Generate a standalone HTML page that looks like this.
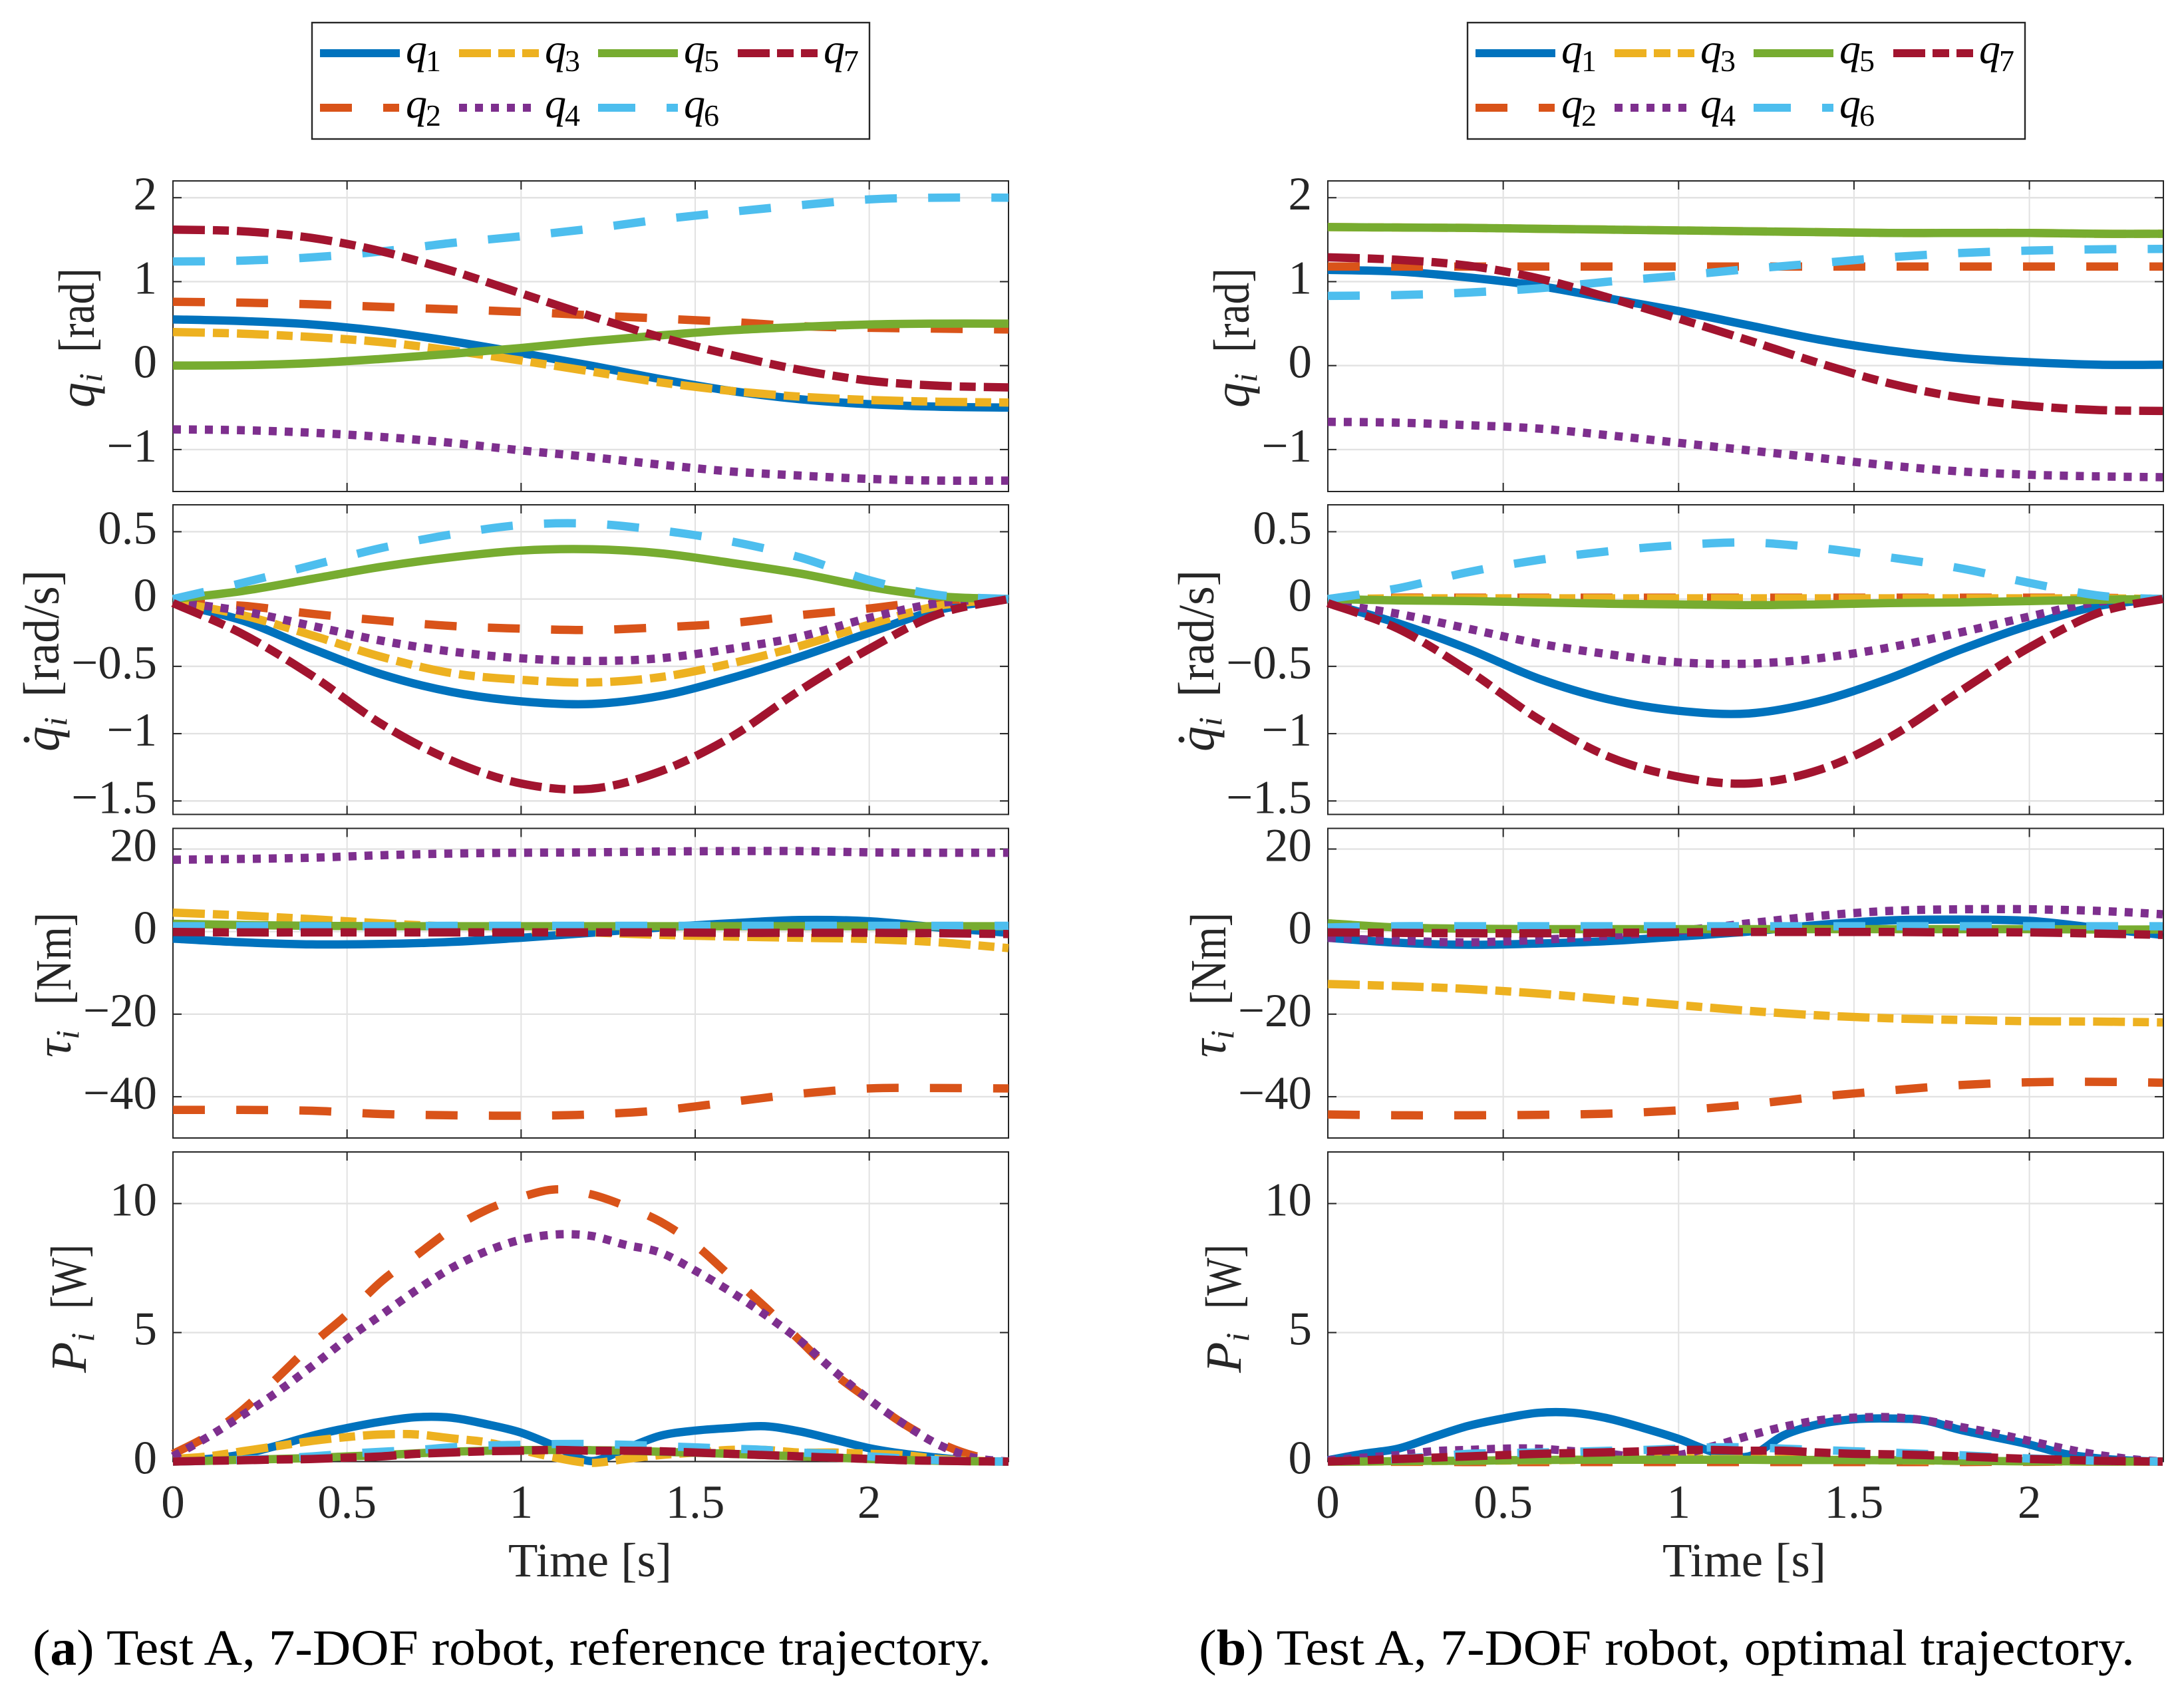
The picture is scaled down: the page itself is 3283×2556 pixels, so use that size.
<!DOCTYPE html>
<html lang="en">
<head>
<meta charset="utf-8">
<title>Test A, 7-DOF robot trajectories</title>
<style>
html,body{margin:0;padding:0;background:#fff}
svg{display:block}
text{font-family:"Liberation Serif",serif}
</style>
</head>
<body>
<svg id="figure" xmlns="http://www.w3.org/2000/svg" width="3283" height="2556" viewBox="0 0 3283 2556">
<rect x="0" y="0" width="3283" height="2556" fill="#ffffff"/>
<text x="49" y="2503" font-size="76" fill="#000" textLength="1441" lengthAdjust="spacingAndGlyphs">(<tspan font-weight="bold">a</tspan>) Test A, 7-DOF robot, reference trajectory.</text>
<text x="1802" y="2503" font-size="76" fill="#000" textLength="1407" lengthAdjust="spacingAndGlyphs">(<tspan font-weight="bold">b</tspan>) Test A, 7-DOF robot, optimal trajectory.</text>
</svg>
<script>
// Time grids (seconds)
const tA = [0,0.2,0.4,0.6,0.8,1,1.2,1.4,1.6,1.8,2,2.2,2.4];
const tAfine = [0,0.1,0.2,0.3,0.4,0.5,0.6,0.7,0.8,0.9,1,1.1,1.2,1.3,1.4,1.5,1.6,1.7,1.8,1.9,2,2.1,2.2,2.3,2.4];
const tB = [0,0.2,0.4,0.6,0.8,1,1.2,1.4,1.6,1.8,2,2.2,2.38];
const tBfine = [0,0.1,0.2,0.3,0.4,0.5,0.6,0.7,0.8,0.9,1,1.1,1.2,1.3,1.4,1.5,1.6,1.7,1.8,1.9,2,2.1,2.2,2.3,2.38];

// Tick labels
const xTicks = [0,0.5,1,1.5,2];
const posTicks = [-1,0,1,2];
const velTicks = [-1.5,-1,-0.5,0,0.5];
const torTicks = [-40,-20,0,20];
const powTicks = [0,5,10];

// (a) joint position [rad]
const posA1 = [0.55,0.53,0.49,0.41,0.29,0.15,0,-0.16,-0.3,-0.4,-0.46,-0.49,-0.5];
const posA2 = [0.76,0.75,0.73,0.7,0.67,0.64,0.6,0.56,0.52,0.47,0.45,0.44,0.43];
const posA3 = [0.4,0.38,0.34,0.28,0.18,0.06,-0.07,-0.2,-0.3,-0.37,-0.41,-0.43,-0.44];
const posA4 = [-0.76,-0.77,-0.8,-0.85,-0.92,-1.01,-1.09,-1.18,-1.26,-1.31,-1.35,-1.37,-1.37];
const posA5 = [0,0.005,0.03,0.08,0.14,0.21,0.29,0.36,0.42,0.46,0.49,0.5,0.5];
const posA6 = [1.24,1.25,1.29,1.36,1.46,1.54,1.63,1.74,1.83,1.91,1.98,2,2];
const posA7 = [1.62,1.6,1.52,1.36,1.13,0.86,0.59,0.34,0.13,-0.05,-0.18,-0.24,-0.26];

// (a) joint velocity [rad/s]
const velA1 = [-0.03,-0.16,-0.37,-0.56,-0.69,-0.76,-0.78,-0.72,-0.59,-0.43,-0.25,-0.08,0];
const velA2 = [-0.03,-0.05,-0.11,-0.16,-0.2,-0.22,-0.23,-0.21,-0.18,-0.12,-0.07,-0.01,0];
const velA3 = [-0.02,-0.12,-0.27,-0.43,-0.55,-0.6,-0.62,-0.58,-0.48,-0.35,-0.19,-0.05,0];
const velA4 = [-0.02,-0.09,-0.2,-0.31,-0.39,-0.44,-0.46,-0.44,-0.37,-0.28,-0.14,-0.03,0];
const velA5 = [0,0.06,0.15,0.24,0.31,0.36,0.37,0.34,0.27,0.19,0.09,0.02,0];
const velA6 = [0,0.12,0.25,0.38,0.48,0.55,0.56,0.51,0.43,0.31,0.14,0.03,0];
const velA7 = [-0.03,-0.26,-0.57,-0.93,-1.2,-1.37,-1.41,-1.28,-1.03,-0.68,-0.37,-0.11,0];

// (a) joint torque [Nm]
const torA1 = [-1.7,-2.6,-3.1,-3,-2.5,-1.5,-0.3,1,2,2.8,2.5,1,-0.3];
const torA2 = [-43.2,-43.2,-43.4,-44.2,-44.5,-44.6,-44.3,-43.3,-41.3,-39.3,-38,-37.9,-38];
const torA3 = [4.6,3.9,3,2,1.2,0.5,-0.2,-0.8,-1.2,-1.5,-1.8,-2.6,-4];
const torA4 = [17.4,17.6,17.9,18.5,18.9,19.1,19.2,19.4,19.5,19.5,19.2,19.1,19.1];
const torA5 = [1.9,1.6,1.4,1.3,1.3,1.3,1.3,1.3,1.3,1.3,1.3,1.3,1.3];
const torA6 = [1.3,1.3,1.3,1.3,1.4,1.4,1.4,1.4,1.4,1.4,1.4,1.4,1.4];
const torA7 = [-0.1,-0.2,-0.2,-0.2,-0.2,-0.2,-0.2,-0.2,-0.3,-0.3,-0.3,-0.4,-0.6];

// (a) joint power [W]
const powA1 = [0.05,0.1,0.28,0.62,1.0,1.3,1.55,1.72,1.7,1.45,1.12,0.58,0.02,0.5,1.0,1.2,1.3,1.37,1.17,0.85,0.52,0.3,0.15,0.03,0];
const powA2 = [0.3,1.0,2.0,3.25,4.55,5.7,7.0,8.0,9.0,9.75,10.25,10.55,10.36,9.9,9.3,8.4,7.2,6,4.7,3.4,2.4,1.45,0.73,0.23,0];
const powA3 = [0.1,0.2,0.4,0.6,0.8,0.95,1.05,1.05,0.9,0.75,0.45,0.15,-0.05,0.1,0.25,0.35,0.45,0.45,0.35,0.35,0.3,0.25,0.1,0.03,0];
const powA4 = [0.2,0.95,1.8,2.7,3.7,4.75,5.7,6.65,7.5,8.15,8.6,8.8,8.75,8.4,8.1,7.4,6.6,5.7,4.7,3.5,2.4,1.45,0.65,0.15,0];
const powA5 = [0,0.03,0.07,0.1,0.14,0.2,0.25,0.32,0.38,0.42,0.44,0.45,0.44,0.42,0.38,0.34,0.3,0.25,0.2,0.15,0.1,0.06,0.03,0.01,0];
const powA6 = [0,0.03,0.07,0.12,0.2,0.3,0.38,0.45,0.55,0.62,0.65,0.68,0.68,0.65,0.6,0.55,0.5,0.45,0.35,0.3,0.2,0.12,0.05,0.02,0];
const powA7 = [0,0.03,0.05,0.08,0.1,0.15,0.2,0.3,0.35,0.4,0.42,0.45,0.42,0.42,0.4,0.35,0.3,0.25,0.2,0.15,0.1,0.05,0.03,0.01,0];

// (b) joint position [rad]
const posB1 = [1.14,1.12,1.05,0.95,0.8,0.65,0.48,0.31,0.18,0.09,0.04,0.01,0.01];
const posB2 = [1.18,1.18,1.18,1.18,1.18,1.18,1.18,1.18,1.18,1.18,1.18,1.18,1.18];
const posB3 = [1.65,1.645,1.64,1.63,1.62,1.61,1.6,1.59,1.58,1.58,1.58,1.57,1.57];
const posB4 = [-0.67,-0.68,-0.71,-0.75,-0.83,-0.92,-1.01,-1.1,-1.19,-1.26,-1.3,-1.32,-1.33];
const posB5 = [1.65,1.645,1.64,1.63,1.62,1.61,1.6,1.59,1.58,1.58,1.58,1.57,1.57];
const posB6 = [0.83,0.84,0.87,0.92,1,1.07,1.15,1.22,1.29,1.34,1.37,1.385,1.39];
const posB7 = [1.29,1.26,1.19,1.04,0.81,0.56,0.3,0.03,-0.21,-0.38,-0.48,-0.53,-0.54];

// (b) joint velocity [rad/s]
const velB1 = [-0.03,-0.18,-0.37,-0.59,-0.745,-0.83,-0.85,-0.76,-0.59,-0.38,-0.195,-0.05,0];
const velB2 = [0,0.01,0.01,0.01,0.01,0.01,0.01,0.01,0.01,0.01,0.01,0.01,0];
const velB3 = [0,0.005,0.005,0.005,0.005,0.005,0.005,0.005,0.005,0.005,0.005,0.005,0];
const velB4 = [-0.03,-0.11,-0.22,-0.33,-0.41,-0.47,-0.48,-0.44,-0.36,-0.25,-0.13,-0.02,0];
const velB5 = [0,-0.01,-0.015,-0.025,-0.035,-0.04,-0.045,-0.04,-0.03,-0.025,-0.015,-0.005,0];
const velB6 = [0,0.08,0.2,0.29,0.355,0.4,0.42,0.38,0.31,0.23,0.12,0.025,0];
const velB7 = [-0.03,-0.22,-0.53,-0.89,-1.17,-1.32,-1.37,-1.27,-1.03,-0.69,-0.36,-0.1,0];

// (b) joint torque [Nm]
const torB1 = [-1.5,-2.7,-3.2,-2.9,-2.3,-1.2,0,1.6,2.7,2.9,2.6,0.8,-0.8];
const torB2 = [-44.3,-44.5,-44.5,-44.4,-44.1,-43.3,-41.9,-40,-38.5,-37.2,-36.5,-36.4,-36.6];
const torB3 = [-12.7,-13.2,-13.9,-15,-16.4,-17.8,-19.2,-20.3,-21,-21.4,-21.7,-21.8,-22];
const torB4 = [-1.5,-2.2,-2.6,-2,-1,0.2,2,3.8,5,5.4,5.4,5,4.2];
const torB5 = [2,1,0.7,0.6,0.6,0.6,0.6,0.6,0.6,0.6,0.6,0.5,0.5];
const torB6 = [1,1.3,1.3,1.3,1.3,1.3,1.3,1.3,1.3,1.3,1.3,1.3,1.3];
const torB7 = [-0.2,-0.3,-0.4,-0.4,-0.3,-0.2,-0.1,-0.1,-0.1,-0.2,-0.2,-0.5,-0.8];

// (b) joint power [W]
const powB1 = [0.05,0.3,0.5,0.95,1.38,1.67,1.89,1.89,1.67,1.3,0.88,0.37,0.2,1.02,1.45,1.64,1.67,1.6,1.24,0.95,0.66,0.3,0.12,0.03,0];
const powB2 = [0,0,-0.01,-0.01,-0.02,-0.02,-0.02,-0.02,-0.02,-0.02,-0.02,-0.02,-0.02,-0.02,-0.02,-0.02,-0.02,-0.02,-0.02,-0.01,-0.01,0,0,0,0];
const powB3 = [0,0,0.01,0.02,0.03,0.04,0.05,0.06,0.1,0.15,0.15,0.1,0.1,0.1,0.08,0.06,0.05,0.04,0.03,0.02,0.01,0,0,0,0];
const powB4 = [0.05,0.15,0.25,0.4,0.45,0.5,0.5,0.4,0.3,0.15,0.25,0.6,1,1.35,1.6,1.7,1.72,1.6,1.35,1.1,0.8,0.5,0.25,0.08,0];
const powB5 = [0,0,0.02,0.03,0.03,0.05,0.06,0.07,0.07,0.07,0.07,0.07,0.07,0.06,0.06,0.06,0.05,0.05,0.03,0.02,0.01,0.01,0,0,0];
const powB6 = [0,0.05,0.1,0.2,0.3,0.33,0.35,0.38,0.42,0.45,0.5,0.55,0.55,0.5,0.45,0.4,0.35,0.3,0.25,0.18,0.12,0.08,0.03,0.01,0];
const powB7 = [0,0.05,0.1,0.15,0.2,0.25,0.3,0.33,0.36,0.4,0.45,0.45,0.42,0.42,0.35,0.3,0.28,0.25,0.2,0.15,0.1,0.07,0.03,0.01,0];

const colors = ['#0072BD','#D95319','#EDB120','#7E2F8E','#77AC30','#4DBEEE','#A2142F'];
const dashes = ['none','48 47','48 12 24 12','12 12','none','48 47','48 12 24 12'];
const legendDashes = ['none','48 47 24','48 11 25 11 25','12 12','none','56 47 17','48 11 25 11 25'];
const NS = 'http://www.w3.org/2000/svg';
const svg = document.getElementById('figure');

function make(tag, attrs, parent, txt){
  const e = document.createElementNS(NS, tag);
  for (const k in attrs) e.setAttribute(k, attrs[k]);
  if (txt !== undefined) e.textContent = txt;
  parent.appendChild(e);
  return e;
}
function smoothPath(px, py){
  let d = 'M' + px[0].toFixed(2) + ' ' + py[0].toFixed(2);
  const n = px.length;
  for (let i = 0; i < n - 1; i++){
    const i0 = Math.max(0, i - 1), i3 = Math.min(n - 1, i + 2);
    const c1x = px[i] + (px[i + 1] - px[i0]) / 6, c1y = py[i] + (py[i + 1] - py[i0]) / 6;
    const c2x = px[i + 1] - (px[i3] - px[i]) / 6, c2y = py[i + 1] - (py[i3] - py[i]) / 6;
    d += 'C' + c1x.toFixed(2) + ' ' + c1y.toFixed(2) + ' ' + c2x.toFixed(2) + ' ' + c2y.toFixed(2) + ' ' + px[i + 1].toFixed(2) + ' ' + py[i + 1].toFixed(2);
  }
  return d;
}
function fmt(v){ return String(v).replace('-', '\u2212'); }

const columns = [
  {id:'a', left:260, right:1516, xMax:2.4, shift:0, panels:[
    {key:'position', top:272, bottom:739, yMin:-1.5, yMax:2.2, ticks:posTicks, t:tA, s:[posA1,posA2,posA3,posA4,posA5,posA6,posA7]},
    {key:'velocity', top:759, bottom:1224.5, yMin:-1.6, yMax:0.7, ticks:velTicks, t:tA, s:[velA1,velA2,velA3,velA4,velA5,velA6,velA7]},
    {key:'torque', top:1245.5, bottom:1711, yMin:-50, yMax:25, ticks:torTicks, t:tA, s:[torA1,torA2,torA3,torA4,torA5,torA6,torA7]},
    {key:'power', top:1732, bottom:2197.5, yMin:0, yMax:12, ticks:powTicks, t:tAfine, s:[powA1,powA2,powA3,powA4,powA5,powA6,powA7]}
  ]},
  {id:'b', left:1996, right:3252, xMax:2.382, shift:1736, panels:[
    {key:'position', top:272, bottom:739, yMin:-1.5, yMax:2.2, ticks:posTicks, t:tB, s:[posB1,posB2,posB3,posB4,posB5,posB6,posB7]},
    {key:'velocity', top:759, bottom:1224.5, yMin:-1.6, yMax:0.7, ticks:velTicks, t:tB, s:[velB1,velB2,velB3,velB4,velB5,velB6,velB7]},
    {key:'torque', top:1245.5, bottom:1711, yMin:-50, yMax:25, ticks:torTicks, t:tB, s:[torB1,torB2,torB3,torB4,torB5,torB6,torB7]},
    {key:'power', top:1732, bottom:2197.5, yMin:0, yMax:12, ticks:powTicks, t:tBfine, s:[powB1,powB2,powB3,powB4,powB5,powB6,powB7]}
  ]}
];

// y-axis label layout per row: baseline x, symbol bottom y, unit bottom y, unit length
const yLabels = [
  {sym:'q', sub:'i', unit:'[rad]', base:141, symBottom:613, unitBottom:530, unitLen:127, dot:false},
  {sym:'q', sub:'i', unit:'[rad/s]', base:88, symBottom:1130, unitBottom:1048, unitLen:191, dot:true},
  {sym:'\u03C4', sub:'i', unit:'[Nm]', base:106, symBottom:1590, unitBottom:1511, unitLen:139, dot:false},
  {sym:'P', sub:'i', unit:'[W]', base:129, symBottom:2064, unitBottom:1968, unitLen:97, dot:false}
];

columns.forEach(function(col){
  const w = col.right - col.left;
  const xs = function(t){ return col.left + (t / col.xMax) * w; };

  col.panels.forEach(function(p, row){
    const ys = function(v){ return p.bottom - (v - p.yMin) / (p.yMax - p.yMin) * (p.bottom - p.top); };
    const g = make('g', {}, svg);
    
    

    // grid
    xTicks.slice(1).forEach(function(t){
      const l = make('line', {x1:xs(t), x2:xs(t), y1:p.top, y2:p.bottom, stroke:'#e2e2e2', 'stroke-width':2}, g);
      
      
    });
    p.ticks.forEach(function(v){
      const l = make('line', {x1:col.left, x2:col.right, y1:ys(v), y2:ys(v), stroke:'#e2e2e2', 'stroke-width':2.4}, g);
      
      
    });

    // box
    const box = make('rect', {x:col.left, y:p.top, width:w, height:p.bottom - p.top, fill:'none', stroke:'#262626', 'stroke-width':2}, g);
    
    

    // ticks
    xTicks.slice(1).forEach(function(t){
      const a = make('line', {x1:xs(t), x2:xs(t), y1:p.top, y2:p.top + 13, stroke:'#262626', 'stroke-width':2}, g);
      
      
      const b = make('line', {x1:xs(t), x2:xs(t), y1:p.bottom, y2:p.bottom - 13, stroke:'#262626', 'stroke-width':2}, g);
      
      
    });
    p.ticks.forEach(function(v){
      const a = make('line', {x1:col.left, x2:col.left + 13, y1:ys(v), y2:ys(v), stroke:'#262626', 'stroke-width':2}, g);
      
      
      const b = make('line', {x1:col.right, x2:col.right - 13, y1:ys(v), y2:ys(v), stroke:'#262626', 'stroke-width':2}, g);
      
      
      const tx = make('text', {x:col.left - 24, y:ys(v) + 18, 'font-size':71, fill:'#262626', 'text-anchor':'end'}, g, fmt(v));
      
      
    });

    // series (q1 first, q7 on top)
    p.s.forEach(function(vals, i){
      const px = p.t.map(xs);
      const py = vals.map(ys);
      const path = make('path', {d:smoothPath(px, py), fill:'none', stroke:colors[i], 'stroke-width':12.5, 'stroke-linecap':'butt', 'stroke-linejoin':'round'}, g);
      if (dashes[i] !== 'none') path.setAttribute('stroke-dasharray', dashes[i]);
      
      
    });

    // y label
    const L = yLabels[row];
    const bx = L.base + col.shift;
    const sg = make('text', {transform:'translate(' + bx + ' ' + L.symBottom + ') rotate(-90)', 'font-size':76, fill:'#262626', 'font-style':'italic'}, g);
    
    
    make('tspan', {}, sg, L.sym);
    make('tspan', {dy:12, 'font-size':50}, sg, L.sub);
    if (L.dot){
      const dt = make('circle', {cx:bx - 48, cy:L.symBottom - 18, r:4.5, fill:'#262626'}, g);
      
      
    }
    const ug = make('text', {transform:'translate(' + bx + ' ' + L.unitBottom + ') rotate(-90)', 'font-size':76, fill:'#262626', textLength:L.unitLen, lengthAdjust:'spacingAndGlyphs'}, g, L.unit);
    
    
  });

  // x tick labels
  xTicks.forEach(function(t){
    const tx = make('text', {x:xs(t), y:2282, 'font-size':71, fill:'#262626', 'text-anchor':'middle'}, svg, String(t));
    
    
  });
  const xl = make('text', {x:col.id === 'a' ? 764 : 2499, y:2370, 'font-size':72, fill:'#262626', textLength:246, lengthAdjust:'spacingAndGlyphs'}, svg, 'Time [s]');
  
  

  // legend
  const off = col.id === 'a' ? 0 : 1737;
  const lg = make('g', {}, svg);
  
  
  const lb = make('rect', {x:469 + off, y:34, width:838, height:175, fill:'#fff', stroke:'#262626', 'stroke-width':2.4}, lg);
  
  
  const colX = [481, 690, 899, 1109];
  for (let i = 0; i < 7; i++){
    const c = Math.floor(i / 2), r = i % 2;
    const lx = colX[c] + off, ly = r === 0 ? 80 : 162;
    const ln = make('line', {x1:lx, x2:lx + 120, y1:ly, y2:ly, stroke:colors[i], 'stroke-width':12}, lg);
    if (legendDashes[i] !== 'none') ln.setAttribute('stroke-dasharray', legendDashes[i]);
    
    
    const lt = make('text', {x:lx + 129, y:ly + 15, 'font-size':64, fill:'#000', 'font-style':'italic'}, lg);
    
    
    make('tspan', {}, lt, 'q');
    make('tspan', {dy:12, dx:-2, 'font-size':46, 'font-style':'normal'}, lt, String(i + 1));
  }
});
</script>
</body>
</html>
